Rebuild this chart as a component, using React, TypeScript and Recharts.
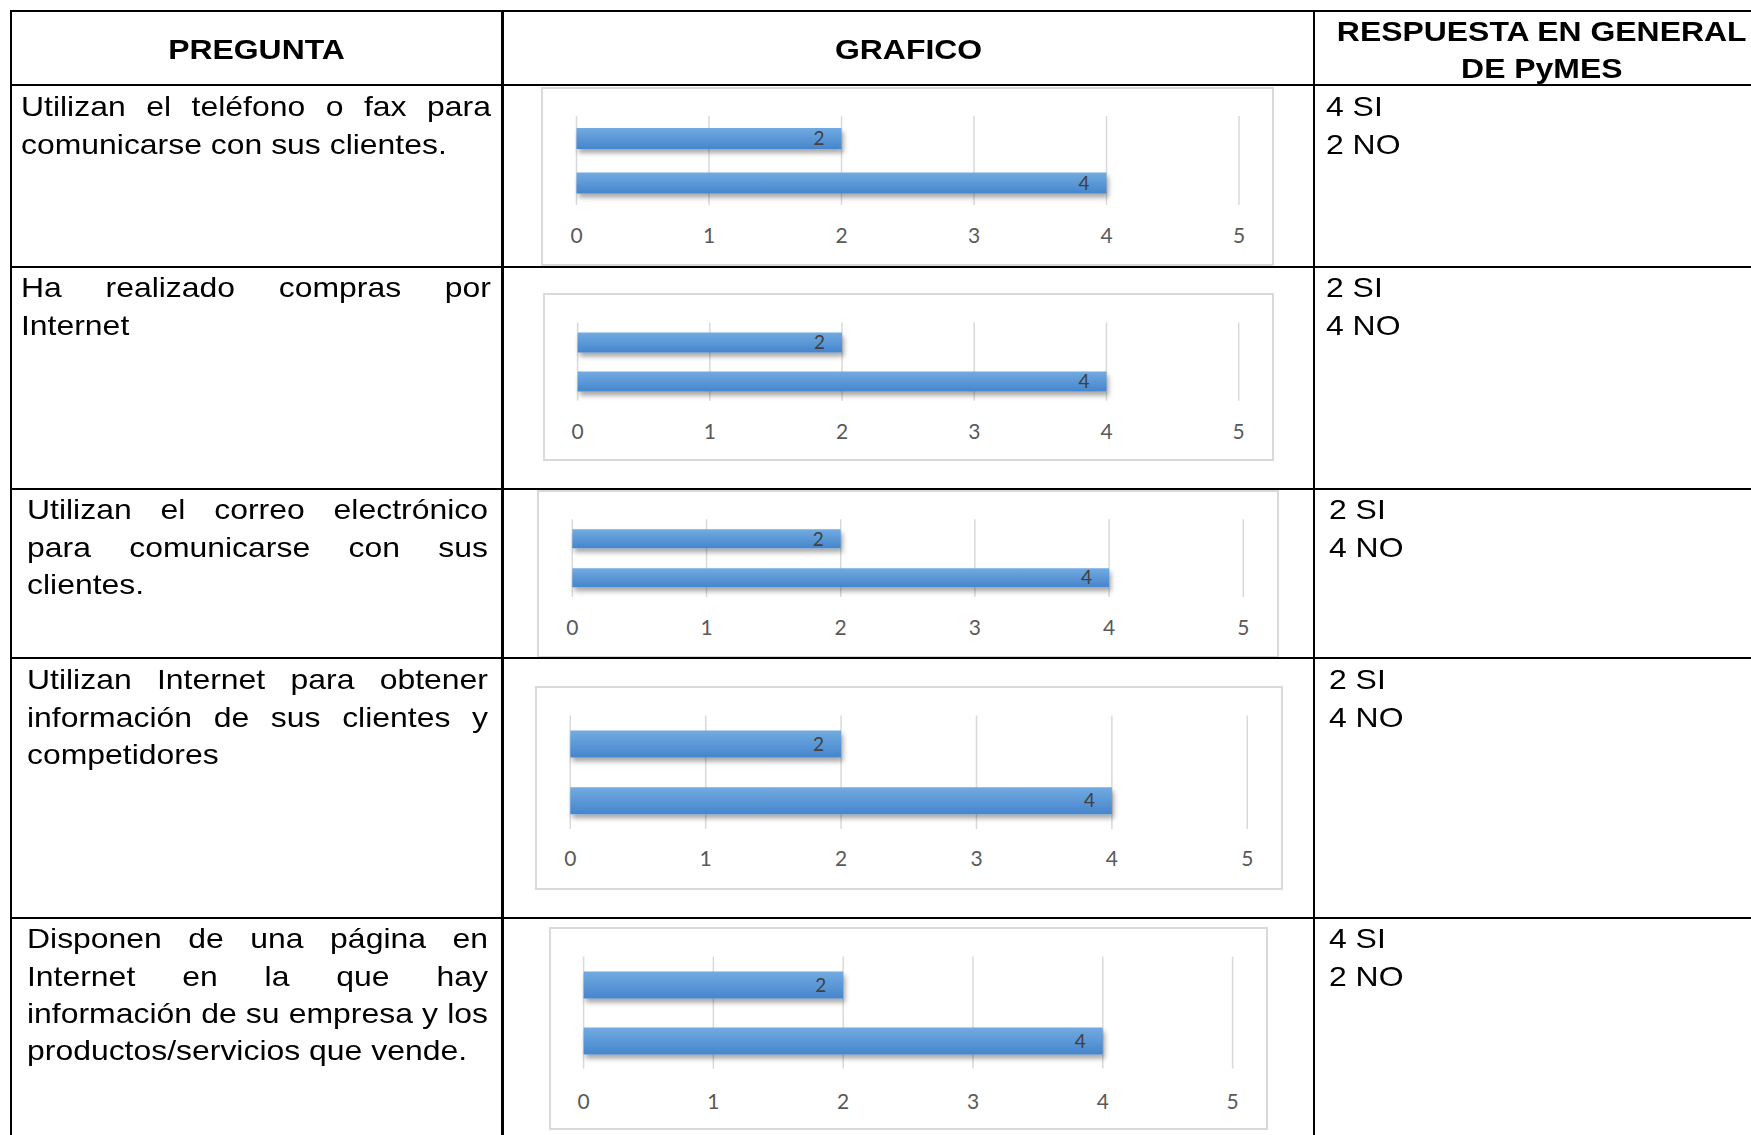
import React from "react";
import { BarChart, Bar, XAxis, YAxis, CartesianGrid, LabelList } from "recharts";

// ---------- DATA ----------
const encabezadoPregunta = "PREGUNTA";
const encabezadoGrafico = "GRAFICO";
const encabezadoRespuesta = ["RESPUESTA EN GENERAL", "DE PyMES"];

const preguntas: string[][] = [
  ["Utilizan el teléfono o fax para", "comunicarse con sus clientes."],
  ["Ha realizado compras por", "Internet"],
  ["Utilizan el correo electrónico", "para comunicarse con sus", "clientes."],
  ["Utilizan Internet para obtener", "información de sus clientes y", "competidores"],
  [
    "Disponen de una página en",
    "Internet en la que hay",
    "información de su empresa y los",
    "productos/servicios que vende.",
  ],
];

const respuestasSi = [4, 2, 2, 2, 4];
const respuestasNo = [2, 4, 4, 4, 2];

const categorias = ["Categoría 1", "Categoría 2"];
const valoresGrafico1 = [2, 4];
const valoresGrafico2 = [2, 4];
const valoresGrafico3 = [2, 4];
const valoresGrafico4 = [2, 4];
const valoresGrafico5 = [2, 4];
const valoresGraficos = [valoresGrafico1, valoresGrafico2, valoresGrafico3, valoresGrafico4, valoresGrafico5];
const ticksEje = [0, 1, 2, 3, 4, 5];

// ---------- LAYOUT ----------
const SX = 1.14;
const FONT = 28;
const LH = 37.2;
const BODY_FONT = "'Liberation Sans', Arial, sans-serif";
const CHART_FONT = "Lato, 'Open Sans', sans-serif";

const rowLines = [11, 85, 267, 489, 658, 918];
const colLines = [11, 502.5, 1314];
const rowTextCenters = [107, 288, 510, 680, 939];
const col1Left = [21, 21, 27, 27, 27];
const col1Right = [491, 491, 488, 488, 488];
const col3Left = [1325.5, 1325.5, 1329, 1329, 1329];

const chartBoxes = [
  { L: 540.5, T: 87, R: 1274, B: 266, x0: 576, x5: 1238.5, gt: 116, gb: 205, bar: 21, lab: 31 },
  { L: 542.7, T: 292.6, R: 1274, B: 461, x0: 577.3, x5: 1238.4, gt: 322, gb: 400.3, bar: 20, lab: 30.7 },
  { L: 536.7, T: 490, R: 1279, B: 657.7, x0: 572, x5: 1243, gt: 519.3, gb: 597, bar: 19, lab: 30.7 },
  { L: 534.7, T: 686, R: 1283, B: 890, x0: 570, x5: 1247, gt: 715.5, gb: 829, bar: 27, lab: 30 },
  { L: 549.4, T: 926.7, R: 1268.5, B: 1130, x0: 584, x5: 1233, gt: 956.3, gb: 1068.3, bar: 27, lab: 33.4 },
];

const AXIS_H = 40;
const TICK_FS = 21;

function JustLine({ left, right, top, text, last }: { left: number; right: number; top: number; text: string; last: boolean }) {
  return (
    <div
      style={{
        position: "absolute",
        left,
        top,
        width: (right - left) / SX,
        height: LH,
        lineHeight: `${LH}px`,
        fontSize: FONT,
        fontFamily: BODY_FONT,
        color: "#000",
        textAlign: last ? "left" : "justify",
        textAlignLast: last ? "left" : "justify",
        transform: `scaleX(${SX})`,
        transformOrigin: "0 0",
      } as React.CSSProperties}
    >
      {text}
    </div>
  );
}

function CenterLine({ cx, cy, text, bold }: { cx: number; cy: number; text: string; bold?: boolean }) {
  return (
    <div
      style={{
        position: "absolute",
        left: cx - 400,
        width: 800,
        top: cy - LH / 2,
        height: LH,
        lineHeight: `${LH}px`,
        textAlign: "center",
        fontSize: FONT,
        fontFamily: BODY_FONT,
        fontWeight: bold ? 700 : 400,
        color: "#000",
        whiteSpace: "nowrap",
      }}
    >
      <span style={{ display: "inline-block", transform: `scaleX(${SX})` }}>{text}</span>
    </div>
  );
}

function MiniChart({ idx }: { idx: number }) {
  const b = chartBoxes[idx];
  const W = b.R - b.L;
  const H = b.B - b.T;
  const data = categorias.map((c, i) => ({ cat: c, valor: valoresGraficos[idx][i] }));
  const tickMargin = b.lab - (TICK_FS * 0.72) / 2;
  return (
    <>
      <div
        style={{
          position: "absolute",
          left: b.L,
          top: b.T,
          width: W,
          height: H,
          border: "2px solid #d9d9d9",
          boxSizing: "border-box",
          background: "#fff",
        }}
      />
      <div style={{ position: "absolute", left: b.L, top: b.T, width: W, height: H }}>
        <BarChart
          layout="vertical"
          width={W}
          height={H}
          data={data}
          margin={{ top: b.gt - b.T, bottom: b.B - b.gb - AXIS_H, left: b.x0 - b.L, right: b.R - b.x5 }}
        >
          <CartesianGrid horizontal={false} stroke="#d9d9d9" strokeWidth={1.5} />
          <XAxis
            type="number"
            domain={[0, 5]}
            ticks={ticksEje}
            interval={0}
            axisLine={false}
            tickLine={false}
            tickSize={0}
            tickMargin={tickMargin}
            height={AXIS_H}
            tick={{ fill: "#595959", fontSize: TICK_FS, fontFamily: CHART_FONT }}
          />
          <YAxis type="category" dataKey="cat" hide width={0} />
          <Bar
            dataKey="valor"
            fill="url(#barGrad)"
            barSize={b.bar}
            isAnimationActive={false}
            filter="url(#barShadow)"
          >
            <LabelList
              dataKey="valor"
              position="insideRight"
              offset={17}
              fill="#404040"
              fontSize={19}
              fontFamily={CHART_FONT}
            />
          </Bar>
        </BarChart>
      </div>
    </>
  );
}

export default function App() {
  return (
    <div
      style={{
        position: "absolute",
        left: 0,
        top: 0,
        width: 1751,
        height: 1135,
        overflow: "hidden",
        background: "#fff",
      }}
    >
      <svg width={0} height={0} style={{ position: "absolute" }}>
        <defs>
          <linearGradient id="barGrad" x1="0" y1="0" x2="0" y2="1">
            <stop offset="0%" stopColor="#72abe1" />
            <stop offset="100%" stopColor="#4585cc" />
          </linearGradient>
          <filter id="barShadow" x="-10%" y="-50%" width="130%" height="250%">
            <feDropShadow dx="2" dy="4" stdDeviation="2.5" floodColor="#000" floodOpacity="0.35" />
          </filter>
        </defs>
      </svg>

      {valoresGraficos.map((_, i) => (
        <MiniChart key={i} idx={i} />
      ))}

      {/* Header */}
      <CenterLine cx={(colLines[0] + colLines[1]) / 2} cy={49.5} text={encabezadoPregunta} bold />
      <CenterLine cx={(colLines[1] + colLines[2]) / 2} cy={49.5} text={encabezadoGrafico} bold />
      <CenterLine cx={1542} cy={32} text={encabezadoRespuesta[0]} bold />
      <CenterLine cx={1542} cy={69} text={encabezadoRespuesta[1]} bold />

      {/* Questions */}
      {preguntas.map((lines, r) =>
        lines.map((t, i) => (
          <JustLine
            key={`q${r}-${i}`}
            left={col1Left[r]}
            right={col1Right[r]}
            top={rowTextCenters[r] - LH / 2 + i * LH}
            text={t}
            last={i === lines.length - 1}
          />
        ))
      )}

      {/* Answers */}
      {respuestasSi.map((si, r) => (
        <React.Fragment key={`a${r}`}>
          <JustLine left={col3Left[r]} right={col3Left[r] + 300} top={rowTextCenters[r] - LH / 2} text={`${si} SI`} last />
          <JustLine left={col3Left[r]} right={col3Left[r] + 300} top={rowTextCenters[r] - LH / 2 + LH} text={`${respuestasNo[r]} NO`} last />
        </React.Fragment>
      ))}

      {/* Table lines */}
      {rowLines.map((y, i) => (
        <div key={`h${i}`} style={{ position: "absolute", left: 10, top: y - 1.4, width: 1760, height: 2.8, background: "#000" }} />
      ))}
      {colLines.map((x, i) => (
        <div key={`v${i}`} style={{ position: "absolute", left: x - 1.4, top: 10, width: 2.8, height: 1140, background: "#000" }} />
      ))}
    </div>
  );
}
